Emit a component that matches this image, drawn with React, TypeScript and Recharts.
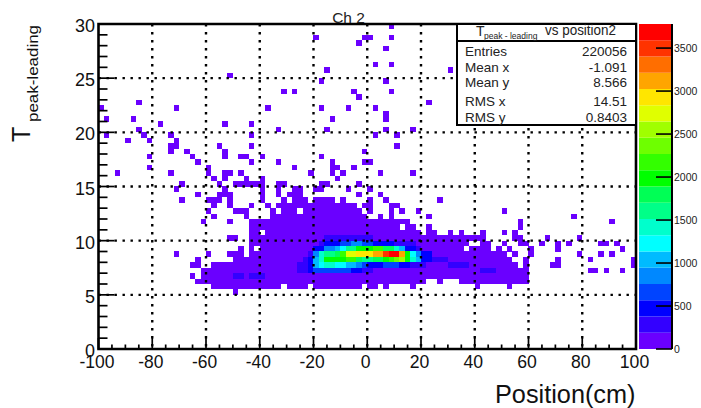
import React from 'react';
import { ScatterChart, Scatter, XAxis, YAxis, CartesianGrid, ReferenceArea, BarChart, Bar } from 'recharts';

const FONT = '"Liberation Sans", Arial, sans-serif';

// Occupied bins: row centre (y) and its columns (x centre, or [from, to] runs of bins)
const rowY = [29.75, 28.75, 28.25, 27.75, 26.25, 25.75, 25.25, 24.75, 23.75, 23.25, 22.75, 22.25, 21.75, 21.25, 20.75, 20.25, 19.75, 19.25, 18.75, 18.25, 17.75, 17.25, 16.75, 16.25, 15.75, 15.25, 14.75, 14.25, 13.75, 13.25, 12.75, 12.25, 11.75, 11.25, 10.75, 10.25, 9.75, 9.25, 8.75, 8.25, 7.75, 7.25, 6.75, 6.25, 5.75, 5.25];
const rowColumns: (number | number[])[][] = [
  [9],
  [-19, -1, 1, 9],
  [-3],
  [7],
  [3, 9],
  [-15, 31],
  [-51],
  [-17, 7],
  [-31, -27, -5, 9],
  [-3],
  [-85, 23],
  [-99, -71, -37, -17, -7, 3],
  [7],
  [-97, -87, -13, 7],
  [-77, -53, -43],
  [-85, -33, -15, 7, 17],
  [-97, -83, -73, -43, 3, 11],
  [-89, -81, -71],
  [-73, -71, -55, -43, 11],
  [-73, -67, -53, -1],
  [-81, -65, -53, -47, -45, -39, -17],
  [-63, -43, -33, -13, -1, 1],
  [-81, -59, -27, -13, -11, -5],
  [-93, -73, -59, -53, -51, -47, -21, -13, -9, 5, 17],
  [-57, -53, -45, -39, -11],
  [-69, -55, [-49, -39], [-33, -31], [-17, -15], -3],
  [-71, -53, -39, -33, [-27, -25], [-19, -17], -7, 1],
  [-63, [-55, -51], -39, -33, [-29, -25], -3, 5],
  [-69, [-59, -55], -51, -39, -31, [-27, -23], [-19, -13], -9, 1, 7, 27],
  [-57, -51, -43, -37, [-33, -23], [-21, -5], [-1, 1], [9, 11]],
  [-59, [-49, -45], -35, [-31, -27], [-23, -3], 1, 9, 13, 19, 51],
  [-57, -45, [-35, -1], 5, 9, 23, 77],
  [-61, -51, [-43, 15], 57, 91],
  [[-43, 11], [15, 17], 23, 57],
  [[-43, -41], [-37, 19], [23, 25], 31, 35, 43, 51, 55],
  [[-51, -49], [-43, 43], [55, 57], 67, 79],
  [[-43, 37], [43, 45], 51, [57, 59], 65, 71, 75, [87, 89], 93],
  [-47, -43, [-39, 35], [39, 45], 49, 53, 61, 71, 95],
  [-71, -59, [-51, -47], [-43, 51], 55, 61, 79, 87, 91],
  [-63, [-49, 53], 59, 71, 83, 99],
  [[-65, -63], [-57, 55], 59, [69, 71], 99],
  [[-61, 59], [83, 85], 89, 95],
  [-65, [-61, 59]],
  [[-63, 21], 27, [35, 59]],
  [[-57, -33], [-29, -23], [-19, -3], [1, 3], 7, 17, 41, 53],
  [-49],
];
const LOW_COUNT = 90;

// Counts in the populated core, one list per row, over these columns
const coreX = [-25, -23, -21, -19, -17, -15, -13, -11, -9, -7, -5, -3, -1, 1, 3, 5, 7, 9, 11, 13, 15, 17, 19, 21, 23, 25, 27, 29];
const core10_25 = [0, 0, 0, 0, 0, 280, 280, 280, 280, 280, 280, 280, 280, 280, 0, 0, 0, 0, 0, 0, 0, 0, 0, 0, 0, 0, 0, 0];
const core9_75 = [0, 0, 0, 0, 280, 470, 470, 470, 660, 660, 850, 850, 660, 660, 470, 470, 470, 470, 280, 280, 280, 280, 0, 0, 0, 0, 0, 0];
const core9_25 = [0, 0, 0, 470, 470, 850, 850, 1040, 1230, 1610, 1610, 1990, 1990, 1990, 2170, 2170, 1800, 1800, 1420, 1040, 470, 470, 280, 0, 0, 0, 0, 0];
const core8_75 = [0, 0, 280, 850, 1420, 1610, 1610, 1800, 2170, 2740, 2740, 2930, 2930, 2930, 3120, 3120, 3500, 3690, 3690, 3120, 1990, 1230, 850, 470, 470, 0, 0, 0];
const core8_25 = [0, 280, 470, 1040, 1420, 1990, 1990, 1990, 1990, 2170, 2170, 1800, 1610, 1610, 1800, 1800, 1990, 2170, 2360, 2550, 1990, 1420, 1040, 470, 470, 280, 280, 280];
const core7_75 = [280, 280, 470, 1040, 1230, 1420, 1420, 1230, 1230, 1040, 1040, 850, 660, 470, 470, 470, 660, 660, 660, 470, 470, 280, 280, 280, 0, 0, 0, 0];
const core7_25 = [280, 280, 470, 660, 660, 660, 660, 660, 660, 660, 470, 470, 280, 280, 0, 0, 0, 0, 0, 0, 0, 0, 0, 0, 0, 0, 0, 0];
const coreRows: [number, number[]][] = [[10.25, core10_25], [9.75, core9_75], [9.25, core9_25], [8.75, core8_75], [8.25, core8_25], [7.75, core7_75], [7.25, core7_25]];
const extraCells = [
  { x: 31, y: 7.75, count: 280 }, { x: 33, y: 7.75, count: 280 }, { x: 35, y: 7.75, count: 280 }, { x: 37, y: 7.75, count: 280 },
  { x: 43, y: 7.25, count: 280 }, { x: 45, y: 7.25, count: 280 }, { x: 47, y: 7.25, count: 280 },
  { x: -49, y: 6.75, count: 280 }, { x: -47, y: 6.75, count: 280 }, { x: -43, y: 6.75, count: 280 }, { x: -41, y: 6.75, count: 280 }, { x: -39, y: 6.75, count: 280 },
];

const palette = ['#6a00ff', '#3300ff', '#0000ff', '#0044ff', '#0088ff', '#00bbff', '#00ffff', '#00ffcc', '#00ff88', '#00ff55', '#00ff00', '#33ff00', '#6eff00', '#a0ff00', '#e0ff00', '#ffe600', '#ffa500', '#ff6e00', '#ff3300', '#ff0000'];
const BAND = 189;

const xMajor = [-100, -80, -60, -40, -20, 0, 20, 40, 60, 80, 100];
const xTicks = [-100, -95, -90, -85, -80, -75, -70, -65, -60, -55, -50, -45, -40, -35, -30, -25, -20, -15, -10, -5, 0, 5, 10, 15, 20, 25, 30, 35, 40, 45, 50, 55, 60, 65, 70, 75, 80, 85, 90, 95, 100];
const yMajor = [0, 5, 10, 15, 20, 25, 30];
const yTicks = [0, 1, 2, 3, 4, 5, 6, 7, 8, 9, 10, 11, 12, 13, 14, 15, 16, 17, 18, 19, 20, 21, 22, 23, 24, 25, 26, 27, 28, 29, 30];
const zTicks = [0, 500, 1000, 1500, 2000, 2500, 3000, 3500];

const statLabels = ['Entries', 'Mean x', 'Mean y', 'RMS x', 'RMS y'];
const statValues = ['220056', '-1.091', '8.566', '14.51', '0.8403'];
const statTop = [43, 58.5, 74, 93, 109];

function buildCells() {
  const map = new Map<string, { x: number; y: number; count: number }>();
  rowY.forEach((y, i) => {
    rowColumns[i].forEach((c) => {
      const [a, b] = Array.isArray(c) ? c : [c, c];
      for (let x = a; x <= b; x += 2) map.set(`${x}|${y}`, { x, y, count: LOW_COUNT });
    });
  });
  coreRows.forEach(([y, counts]) => {
    counts.forEach((count, i) => {
      if (count > 0) map.set(`${coreX[i]}|${y}`, { x: coreX[i], y, count });
    });
  });
  extraCells.forEach((c) => map.set(`${c.x}|${c.y}`, c));
  return Array.from(map.values());
}
const cells = buildCells();

const CellShape = (props: any) => {
  const level = Math.min(palette.length - 1, Math.floor(props.payload.count / BAND));
  return <rect x={props.cx - 2.69} y={props.cy - 2.71} width={5.38} height={5.42} fill={palette[level]} shapeRendering="crispEdges" />;
};

const XTick = (props: any) => {
  const { x, y, payload } = props;
  const major = xMajor.includes(payload.value);
  const s = String(payload.value);
  const w = s.replace('-', '').length * 9.8 + (s.startsWith('-') ? 5.6 : 0);
  return (
    <g>
      <line x1={x} x2={x} y1={y} y2={y - (major ? 11 : 4.5)} stroke="#000" strokeWidth={1.7} />
      {major && (
        <text x={x - 1.5} y={y + 18.5} textAnchor="middle" fontSize={19} fontFamily={FONT} fill="#111" textLength={w} lengthAdjust="spacingAndGlyphs">{s}</text>
      )}
    </g>
  );
};

const YTick = (props: any) => {
  const { x, y, payload } = props;
  const major = yMajor.includes(payload.value);
  const s = String(payload.value);
  return (
    <g>
      <line x1={x} x2={x + (major ? 16 : 9)} y1={y} y2={y} stroke="#000" strokeWidth={1.7} />
      {major && (
        <text x={x - 3.5} y={y + 8} textAnchor="end" fontSize={19} fontFamily={FONT} fill="#111" textLength={s.length * 10} lengthAdjust="spacingAndGlyphs">{s}</text>
      )}
    </g>
  );
};

const ZTick = (props: any) => {
  const { x, y, payload } = props;
  return (
    <g>
      <line x1={x} x2={x - 16} y1={y} y2={y} stroke="#000" strokeWidth={1.6} />
      <text x={x + 2} y={y + 4} textAnchor="start" fontSize={10.5} fontFamily={FONT} fill="#222">{payload.value}</text>
    </g>
  );
};

const bandRow = [Object.fromEntries([['name', 'z'], ...palette.map((_, i) => [`b${i}`, BAND])])];

export default function App() {
  return (
    <div style={{ position: 'fixed', left: 0, top: 0, width: 701, height: 408, background: '#fff', overflow: 'hidden' }}>
      <div style={{ position: 'absolute', left: 0, top: 0 }}>
        <ScatterChart width={701} height={408} margin={{ left: 0, top: 24, right: 65, bottom: 0 }}>
          <XAxis type="number" dataKey="x" domain={[-100, 100]} ticks={xTicks} interval={0} height={59} tickSize={0} tickMargin={0} axisLine={false} tickLine={false} tick={<XTick />} allowDataOverflow />
          <YAxis type="number" dataKey="y" domain={[0, 30]} ticks={yTicks} interval={0} width={98.5} tickSize={0} tickMargin={0} axisLine={false} tickLine={false} tick={<YTick />} allowDataOverflow />
          <Scatter data={cells} isAnimationActive={false} shape={CellShape} />
          <CartesianGrid {...({ zIndex: 900 } as any)} stroke="#000" strokeWidth={2.4} strokeDasharray="2.4 5.6" horizontalValues={[5, 10, 15, 20, 25]} verticalValues={[-80, -60, -40, -20, 0, 20, 40, 60, 80]} />
          <ReferenceArea {...({ zIndex: 950 } as any)} x1={-100} x2={100} y1={0} y2={30} fill="none" stroke="#000" strokeWidth={2.6} ifOverflow="visible" />
        </ScatterChart>
      </div>

      <div style={{ position: 'absolute', left: 630, top: 0 }}>
        <BarChart width={71} height={408} data={bandRow} margin={{ left: 9, top: 24, right: 0, bottom: 59 }} barCategoryGap={0} barGap={0}>
          <XAxis dataKey="name" hide />
          <YAxis orientation="right" type="number" domain={[0, BAND * palette.length]} ticks={zTicks} interval={0} width={29} tickSize={0} tickMargin={0} axisLine={{ stroke: '#000', strokeWidth: 2 }} tickLine={false} tick={<ZTick />} allowDataOverflow />
          {palette.map((c, i) => (
            <Bar key={c} dataKey={`b${i}`} stackId="z" fill={c} isAnimationActive={false} />
          ))}
        </BarChart>
      </div>

      {/* stats box */}
      <div style={{ position: 'absolute', left: 456, top: 23, width: 177, height: 99, border: '2px solid #000', background: '#fff', fontFamily: FONT, color: '#222' }}>
        <div style={{ position: 'absolute', left: 0, right: 0, top: 15, height: 2, background: '#000' }} />
      </div>
      <svg width={701} height={408} style={{ position: 'absolute', left: 0, top: 0, pointerEvents: 'none' }}>
        <text x={476} y={35.5} fontSize={14} fontFamily={FONT} fill="#222">T</text>
        <text x={484} y={39} fontSize={8.5} fontFamily={FONT} fill="#222">peak - leading</text>
        <text x={545} y={35} fontSize={14} fontFamily={FONT} fill="#222" textLength={71} lengthAdjust="spacingAndGlyphs">vs position2</text>
        {statLabels.map((s, i) => (
          <text key={s} x={465} y={statTop[i] + 13} fontSize={13.5} fontFamily={FONT} fill="#222">{s}</text>
        ))}
        {statValues.map((s, i) => (
          <text key={s} x={627} y={statTop[i] + 13} textAnchor="end" fontSize={13.5} fontFamily={FONT} fill="#222">{s}</text>
        ))}
        <text x={348.5} y={23.3} textAnchor="middle" fontSize={15.5} fontFamily={FONT} fill="#222">Ch 2</text>
        <text x={635.5} y={402.5} textAnchor="end" fontSize={26.5} fontFamily={FONT} fill="#111" textLength={140.5} lengthAdjust="spacingAndGlyphs">Position(cm)</text>
        <g transform="translate(30,142) rotate(-90)">
          <text x={0} y={0} fontSize={25} fontFamily={FONT} fill="#111">T</text>
          <text x={20} y={8.3} fontSize={15} fontFamily={FONT} fill="#111" textLength={97} lengthAdjust="spacingAndGlyphs">peak-leading</text>
        </g>
      </svg>
    </div>
  );
}
